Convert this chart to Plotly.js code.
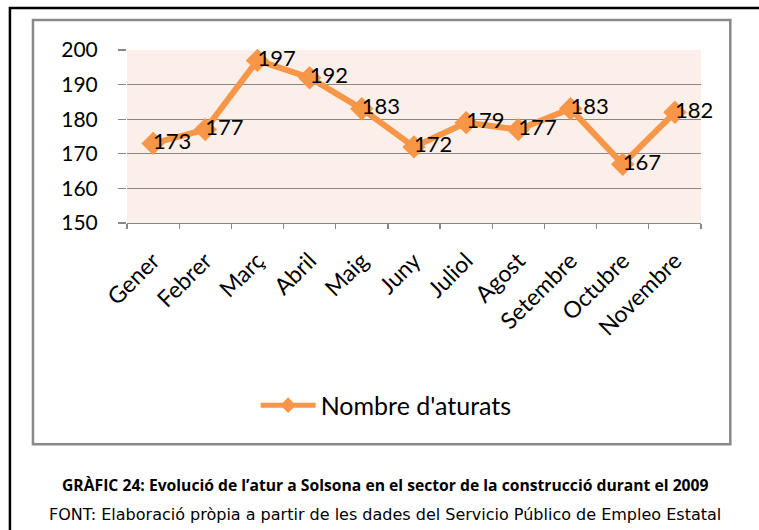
<!DOCTYPE html>
<html>
<head>
<meta charset="utf-8">
<script src="https://cdn.plot.ly/plotly-3.0.1.min.js"></script>
<style>html,body{margin:0;padding:0;background:#fff;}#chart{width:759px;height:530px;}</style>
</head>
<body>
<div id="chart"></div>
<script>
var months = ["Gener","Febrer","Març","Abril","Maig","Juny","Juliol","Agost","Setembre","Octubre","Novembre"];
var aturats = [173,177,197,192,183,172,179,177,183,167,182];
var seriesName = "Nombre d'aturats";
var yTicks = [150,160,170,180,190,200];
var captionTitle = "GRÀFIC 24: Evolució de l’atur a Solsona en el sector de la construcció durant el 2009";
var captionSource = "FONT: Elaboració pròpia a partir de les dades del Servicio Público de Empleo Estatal";

var W = 759, H = 530;
var PL = 127, PR = 700.7, PT = 50, PB = 223.3;
function px(x){ return (x - PL) / (PR - PL); }
function py(y){ return (PB - y) / (PB - PT); }

var orange = "#F79646";
var grid = "#878787";
var chartFont = "Lato, 'Open Sans', sans-serif";

var lineTrace = {
  x: months,
  y: aturats,
  name: seriesName,
  type: "scatter",
  mode: "lines+markers",
  line: {color: orange, width: 6},
  marker: {symbol: "diamond", size: 18, color: orange},
  cliponaxis: false,
  showlegend: true
};

var labelTrace = {
  x: months,
  y: aturats,
  type: "scatter",
  mode: "text",
  text: aturats.map(String),
  textposition: "middle right",
  textfont: {family: chartFont, size: 22, color: "#000"},
  cliponaxis: false,
  showlegend: false,
  hoverinfo: "skip"
};

var layout = {
  width: W, height: H,
  margin: {l: PL, r: W - PR, t: PT, b: H - PB, pad: 0},
  paper_bgcolor: "#fff",
  plot_bgcolor: "#FCEEE8",
  showlegend: true,
  legend: {
    orientation: "h",
    x: px(386), xanchor: "center",
    y: py(406), yanchor: "middle",
    font: {family: chartFont, size: 25, color: "#000"},
    bgcolor: "rgba(0,0,0,0)",
    itemwidth: 55,
    itemsizing: "constant"
  },
  xaxis: {
    type: "category",
    range: [-0.5, 10.5],
    tickson: "boundaries",
    ticks: "outside", ticklen: 5, tickcolor: grid, tickwidth: 1.3,
    showline: true, linecolor: grid, linewidth: 1.3,
    showgrid: false, zeroline: false,
    tickangle: -45,
    ticklabelstandoff: 14,
    tickfont: {family: chartFont, size: 23, color: "#000"},
    fixedrange: true
  },
  yaxis: {
    range: [150, 200],
    tickvals: yTicks,
    ticktext: yTicks.map(String),
    ticks: "outside", ticklen: 8, tickcolor: grid, tickwidth: 1.3,
    showline: false,
    showgrid: true, gridcolor: grid, gridwidth: 1.3,
    zeroline: false,
    ticklabelstandoff: 16,
    tickfont: {family: chartFont, size: 21, color: "#000"},
    fixedrange: true
  },
  shapes: [
    {type: "rect", xref: "paper", yref: "paper",
     x0: px(10), x1: px(800), y0: py(8), y1: py(560),
     line: {color: "#000", width: 2.5}, fillcolor: "rgba(0,0,0,0)", layer: "below"},
    {type: "rect", xref: "paper", yref: "paper",
     x0: px(33), x1: px(730), y0: py(20), y1: py(445),
     line: {color: "#898989", width: 2.5}, fillcolor: "rgba(0,0,0,0)", layer: "below"}
  ],
  annotations: [
    {xref: "paper", yref: "paper", x: px(385), y: py(486), xanchor: "center", yanchor: "middle",
     text: "<b>" + captionTitle + "</b>", showarrow: false,
     font: {family: "'Open Sans', sans-serif", size: 15.7, color: "#000"}},
    {xref: "paper", yref: "paper", x: px(385), y: py(515), xanchor: "center", yanchor: "middle",
     text: captionSource, showarrow: false,
     font: {family: "'DejaVu Sans', sans-serif", size: 16, color: "#000"}}
  ]
};

Plotly.newPlot("chart", [lineTrace, labelTrace], layout, {staticPlot: true, displayModeBar: false});
</script>
</body>
</html>
